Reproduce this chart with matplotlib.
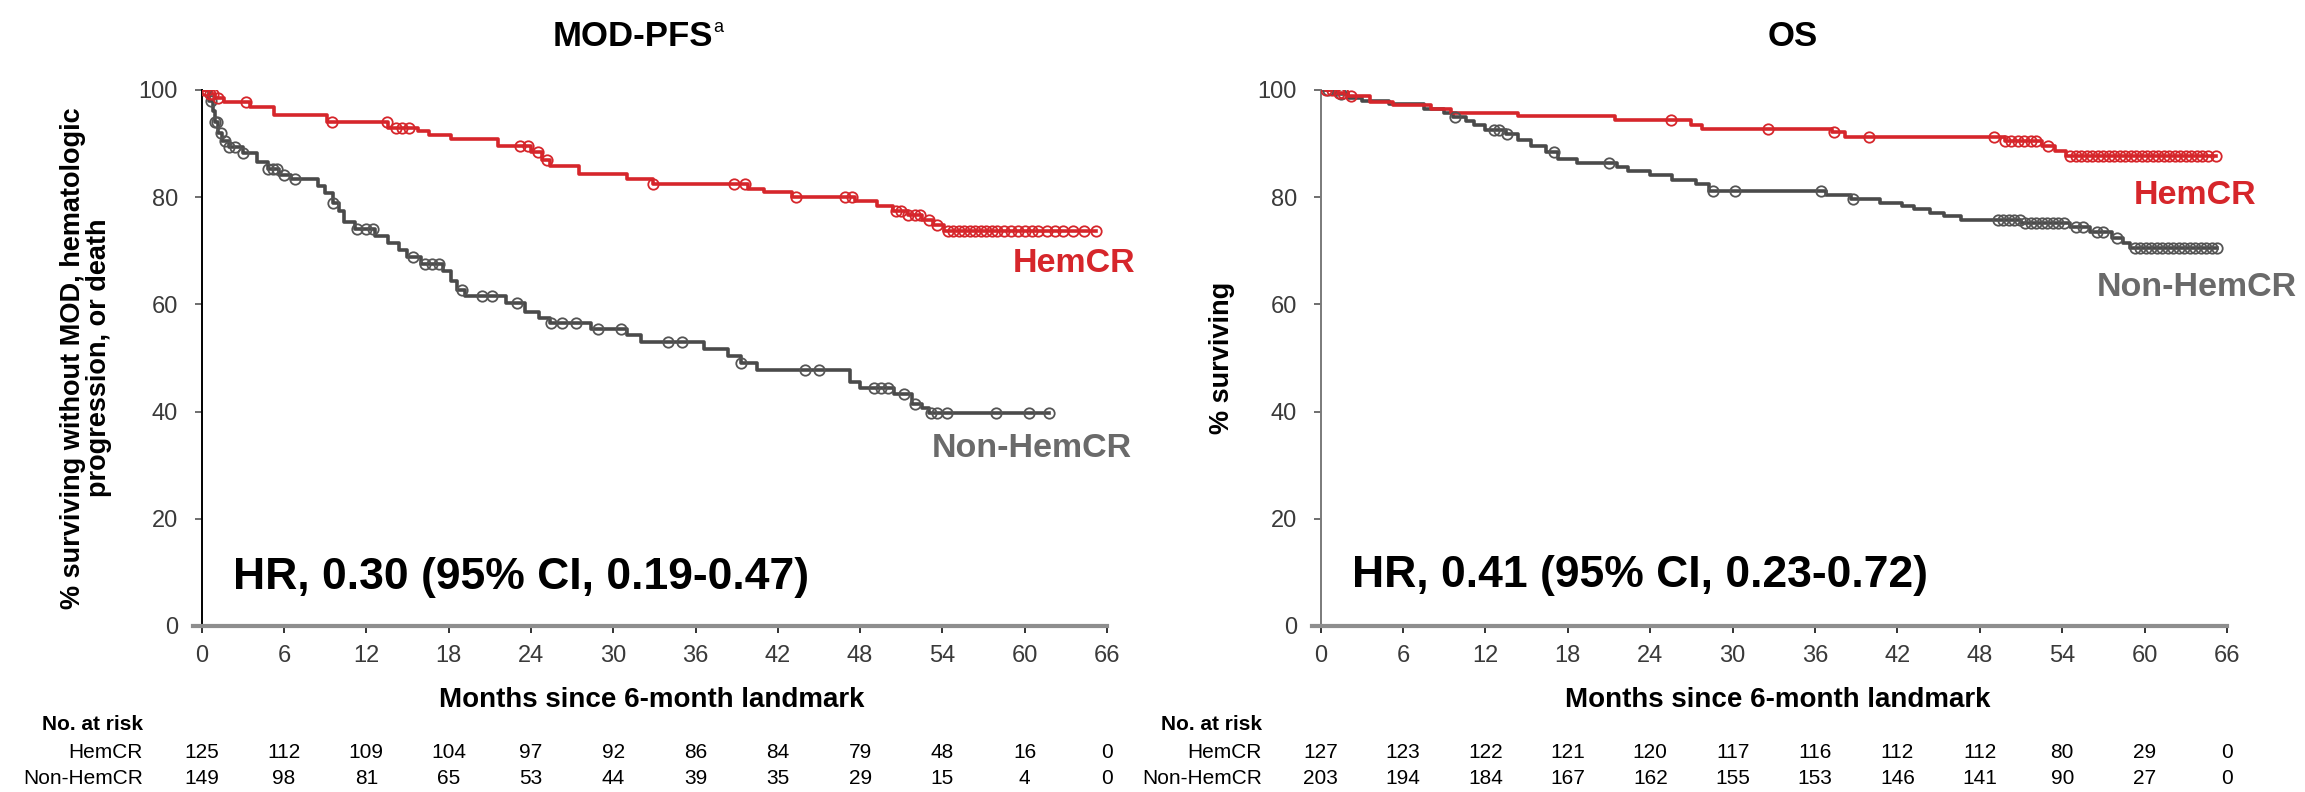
import numpy as np
import matplotlib
matplotlib.use("Agg")
import matplotlib.pyplot as plt
from matplotlib.transforms import blended_transform_factory

plt.rcParams['font.family'] = ['Liberation Sans', 'DejaVu Sans']

# ---- data ----
# MOD-PFS, HemCR
pfs_hem_t = [0, 0.6, 1.0, 1.6, 3.5, 5.3, 9.1, 13.6, 15.8, 16.6, 18.2, 21.6, 24.0, 24.8,
             25.4, 27.5, 31.0, 32.9, 39.8, 41.0, 43.0, 47.6, 49.2, 50.4, 51.5, 52.5, 53.3, 54.1]
pfs_hem_s = [100, 99.3, 98.6, 97.8, 96.8, 95.4, 94.1, 93.0, 92.3, 91.6, 90.8, 89.6, 88.4, 87.0,
             85.8, 84.4, 83.4, 82.5, 81.6, 80.9, 80.1, 79.2, 78.4, 77.5, 76.6, 75.8, 74.8, 73.7]
pfs_hem_c = [0.2, 0.4, 0.6, 0.8, 1.2, 3.2, 9.5, 13.5, 14.2, 14.6, 15.1, 23.2, 23.8, 24.5, 25.2,
             32.9, 38.8, 39.6, 43.3, 46.9, 47.4, 50.6, 51.0, 51.5, 52.0, 52.4, 53.0, 53.6,
             54.4, 54.8, 55.2, 55.6, 56.0, 56.4, 56.8, 57.2, 57.6, 58.0, 58.5, 59.0, 59.5,
             60.0, 60.5, 61.0, 61.6, 62.2, 62.8, 63.5, 64.3, 65.2]
# MOD-PFS, Non-HemCR
pfs_non_t = [0, 0.5, 0.8, 1.0, 1.2, 1.5, 2.0, 3.0, 4.0, 4.8, 5.6, 6.5, 8.5, 9.0, 9.6, 10.0,
             10.4, 11.2, 12.6, 13.6, 14.4, 15.0, 16.0, 17.6, 18.2, 18.6, 19.2, 22.2, 23.6,
             24.6, 25.4, 28.4, 31.0, 32.0, 36.6, 38.4, 39.3, 40.5, 47.3, 48.0, 50.5, 51.8,
             52.5, 53.0]
pfs_non_s = [100, 98, 96, 94, 92, 90.5, 89.3, 88.2, 86.5, 85.3, 84.2, 83.4, 82.1, 80.8, 79.0,
             77.4, 75.3, 74.0, 72.8, 71.5, 70.2, 68.8, 67.5, 66.2, 64.4, 62.7, 61.6, 60.3,
             58.6, 57.5, 56.6, 55.5, 54.3, 53.0, 51.6, 50.3, 49.0, 47.8, 45.6, 44.4, 43.2,
             41.4, 40.6, 39.7]
pfs_non_c = [0.3, 0.7, 1.0, 1.1, 1.4, 1.7, 2.0, 2.4, 3.0, 4.8, 5.2, 5.5, 6.0, 6.8, 9.6, 11.3,
             12.0, 12.5, 15.4, 16.3, 16.8, 17.3, 19.0, 20.4, 21.2, 23.0, 25.5, 26.3, 27.3,
             28.9, 30.6, 34.0, 35.0, 39.3, 44.0, 45.0, 49.0, 49.5, 50.0, 51.2, 52.0, 53.2,
             53.6, 54.3, 57.9, 60.3, 61.8]

# OS, HemCR
os_hem_t = [0, 1.2, 2.0, 3.6, 5.3, 8.0, 9.5, 14.4, 21.4, 27.0, 27.8, 37.2, 38.2, 49.8,
            52.5, 53.5, 54.3]
os_hem_s = [100, 99.4, 98.8, 97.8, 97.2, 96.5, 95.8, 95.1, 94.4, 93.5, 92.8, 92.1, 91.3,
            90.5, 89.6, 88.6, 87.6]
os_hem_c = [0.4, 0.8, 1.3, 1.6, 2.2, 25.5, 32.6, 37.4, 39.9, 49.0, 49.8, 50.3, 50.8, 51.2,
            51.7, 52.1, 53.0, 54.6, 55.0, 55.4, 55.8, 56.2, 56.6, 57.0, 57.4, 57.8, 58.2,
            58.6, 59.0, 59.4, 59.8, 60.2, 60.6, 61.0, 61.4, 61.8, 62.2, 62.6, 63.0, 63.4,
            63.8, 64.2, 64.6, 65.2]
# OS, Non-HemCR
os_non_t = [0, 1.0, 2.0, 3.0, 5.0, 7.5, 9.0, 9.6, 10.6, 11.2, 12.0, 13.5, 14.4, 15.3, 16.4,
            17.3, 18.7, 21.6, 22.4, 24.0, 25.6, 27.3, 28.3, 36.8, 38.6, 40.7, 42.3, 43.2,
            44.4, 45.4, 46.6, 51.0, 54.6, 56.0, 57.6, 58.4, 58.9]
os_non_s = [100, 99.3, 98.6, 98.0, 97.3, 96.5, 95.8, 95.0, 94.2, 93.4, 92.6, 91.8, 90.6,
            89.5, 88.5, 87.2, 86.4, 85.6, 84.9, 84.1, 83.3, 82.5, 81.2, 80.4, 79.6, 79.0,
            78.4, 77.8, 77.0, 76.4, 75.7, 75.2, 74.4, 73.5, 72.4, 71.4, 70.5]
os_non_c = [0.5, 1.5, 9.8, 12.6, 13.0, 13.6, 17.0, 21.0, 28.6, 30.2, 36.4, 38.8, 49.3, 49.7,
            50.1, 50.5, 50.9, 51.3, 51.7, 52.1, 52.5, 52.9, 53.3, 53.7, 54.1, 55.0, 55.5,
            56.5, 57.0, 58.0, 59.3, 59.7, 60.1, 60.5, 60.9, 61.3, 61.7, 62.1, 62.5, 62.9,
            63.3, 63.7, 64.1, 64.5, 64.9, 65.3]

months = [0, 6, 12, 18, 24, 30, 36, 42, 48, 54, 60, 66]
pfs_risk_hem = [125, 112, 109, 104, 97, 92, 86, 84, 79, 48, 16, 0]
pfs_risk_non = [149, 98, 81, 65, 53, 44, 39, 35, 29, 15, 4, 0]
os_risk_hem = [127, 123, 122, 121, 120, 117, 116, 112, 112, 80, 29, 0]
os_risk_non = [203, 194, 184, 167, 162, 155, 153, 146, 141, 90, 27, 0]

RED = '#d6262b'
GRAY = '#4a4a4a'
GRAY_LBL = '#6a6a6a'
W, H = 2305, 792


def km(ax, t, s, cens, color, mcolor):
    t_end = max(max(t), max(cens))
    ax.step(list(t) + [t_end], list(s) + [s[-1]], where='post', color=color, lw=2.6, zorder=3)
    idx = np.searchsorted(t, cens, side='right') - 1
    ax.plot(cens, np.array(s)[idx], 'o', mfc='none', mec=mcolor, ms=7.5, mew=1.3, zorder=4)


def setup(ax, spine_color):
    ax.set_xlim(0, 66)
    ax.set_ylim(0, 100)
    ax.set_xticks(months)
    ax.set_yticks([0, 20, 40, 60, 80, 100])
    for sp in ['top', 'right']:
        ax.spines[sp].set_visible(False)
    ax.spines['left'].set_color(spine_color)
    ax.spines['left'].set_linewidth(1.4)
    ax.spines['bottom'].set_color('#8e8e8e')
    ax.spines['bottom'].set_linewidth(3)
    ax.spines['bottom'].set_bounds(-0.6, 66)
    ax.tick_params(axis='x', length=5, width=1.4, pad=9, labelsize=17,
                   color='#333333', labelcolor='#3a3a3a')
    ax.tick_params(axis='y', length=5, width=1.2, pad=12, labelsize=17,
                   color='#555555', labelcolor='#3a3a3a')


fig = plt.figure(figsize=(W / 100, H / 100), dpi=100)
ax1 = fig.add_axes([201.7 / W, 1 - 626 / H, (1107 - 201.7) / W, (626 - 90) / H])
ax2 = fig.add_axes([1320.7 / W, 1 - 626 / H, (2227 - 1320.7) / W, (626 - 90) / H])

setup(ax1, 'black')
setup(ax2, '#7a7a7a')

km(ax1, pfs_non_t, pfs_non_s, pfs_non_c, GRAY, '#555555')
km(ax1, pfs_hem_t, pfs_hem_s, pfs_hem_c, RED, RED)
km(ax2, os_non_t, os_non_s, os_non_c, GRAY, '#555555')
km(ax2, os_hem_t, os_hem_s, os_hem_c, RED, RED)

# curve labels
ax1.text(63.6, 67.7, 'HemCR', color=RED, fontsize=24.5, fontweight='bold',
         ha='center', va='center', clip_on=False)
ax1.text(53.2, 33.2, 'Non-HemCR', color=GRAY_LBL, fontsize=24.5, fontweight='bold',
         ha='left', va='center', clip_on=False)
ax2.text(59.2, 80.4, 'HemCR', color=RED, fontsize=24.5, fontweight='bold',
         ha='left', va='center', clip_on=False)
ax2.text(56.5, 63.1, 'Non-HemCR', color=GRAY_LBL, fontsize=24.5, fontweight='bold',
         ha='left', va='center', clip_on=False)

# hazard ratios
ax1.text(2.3, 9.0, 'HR, 0.30 (95% CI, 0.19-0.47)', fontsize=32, fontweight='bold',
         ha='left', va='center')
ax2.text(2.3, 9.5, 'HR, 0.41 (95% CI, 0.23-0.72)', fontsize=32, fontweight='bold',
         ha='left', va='center')

# titles
fig.text(633 / W, 1 - 37 / H, 'MOD-PFS', fontsize=25, fontweight='bold', ha='center', va='center')
fig.text(713 / W, 1 - 28 / H, 'a', fontsize=13, ha='left', va='center')
fig.text(1793 / W, 1 - 37 / H, 'OS', fontsize=25, fontweight='bold', ha='center', va='center')

# axis labels
fig.text(86 / W, 1 - 358 / H, '% surviving without MOD, hematologic\nprogression, or death',
         rotation=90, fontsize=19.5, fontweight='bold', ha='center', va='center',
         multialignment='center', linespacing=1.0)
fig.text(1222 / W, 1 - 358 / H, '% surviving', rotation=90, fontsize=19.5, fontweight='bold',
         ha='center', va='center')
fig.text(652 / W, 1 - 700 / H, 'Months since 6-month landmark', fontsize=20,
         fontweight='bold', ha='center', va='center')
fig.text(1778 / W, 1 - 700 / H, 'Months since 6-month landmark', fontsize=20,
         fontweight='bold', ha='center', va='center')

# number at risk tables
for ax, rh, rn in [(ax1, pfs_risk_hem, pfs_risk_non), (ax2, os_risk_hem, os_risk_non)]:
    tr = blended_transform_factory(ax.transData, fig.transFigure)
    ax.text(-4.3, 1 - 725 / H, 'No. at risk', transform=tr, fontsize=15, fontweight='bold',
            ha='right', va='center', clip_on=False)
    ax.text(-4.3, 1 - 753 / H, 'HemCR', transform=tr, fontsize=15, ha='right',
            va='center', clip_on=False)
    ax.text(-4.3, 1 - 779 / H, 'Non-HemCR', transform=tr, fontsize=15, ha='right',
            va='center', clip_on=False)
    for m, a, b in zip(months, rh, rn):
        ax.text(m, 1 - 753 / H, str(a), transform=tr, fontsize=15, ha='center',
                va='center', clip_on=False)
        ax.text(m, 1 - 779 / H, str(b), transform=tr, fontsize=15, ha='center',
                va='center', clip_on=False)

fig.savefig('out.png', dpi=100, facecolor='white')
